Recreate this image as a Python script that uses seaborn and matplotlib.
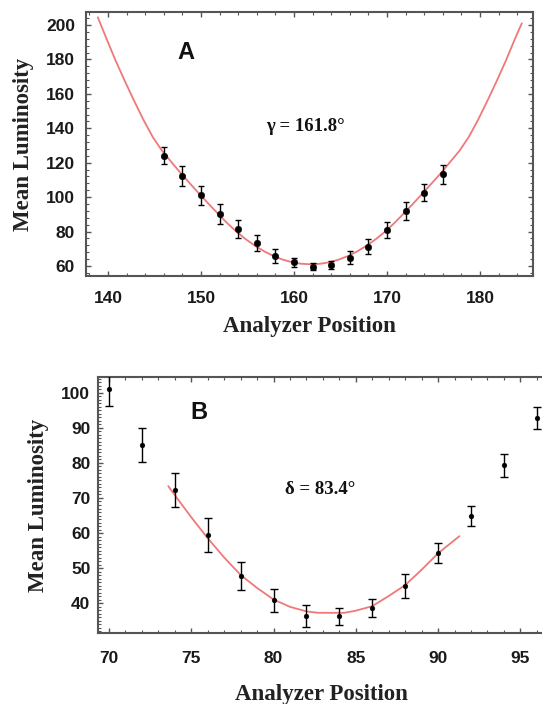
import numpy as np
import pandas as pd
import matplotlib
matplotlib.use("Agg")
import matplotlib.pyplot as plt
import seaborn as sns
from matplotlib.ticker import MultipleLocator

# ---------------- Panel A data ----------------
a_x = [146, 148, 150, 152, 154, 156, 158, 160, 162, 164, 166, 168, 170, 172, 174, 176]
a_y = [124, 112.3, 101, 90.4, 81.6, 73.4, 65.7, 62.1, 59.6, 60.6, 64.9, 71.3, 80.8, 92, 102.7, 113.2]
a_err = [4.9, 5.7, 5.6, 5.8, 5.4, 4.6, 3.9, 2.7, 1.9, 2.3, 3.6, 4.2, 4.6, 5.0, 5.1, 5.3]
a_fit_x = [138.9, 139.8, 140.8, 141.8, 142.8, 143.8, 144.8, 145.8, 146.8, 147.8, 148.8, 149.8,
           150.8, 151.8, 152.8, 153.8, 154.8, 155.8, 156.8, 157.8, 158.8, 159.8, 160.8, 161.8,
           162.8, 163.8, 164.8, 165.8, 166.8, 167.8, 168.8, 169.8, 170.8, 171.8, 172.8, 173.8,
           174.8, 175.8, 176.8, 177.8, 178.8, 179.8, 180.8, 181.8, 182.8, 183.8, 184.5]
a_fit_y = [204.5, 192.5, 179.5, 167.5, 156, 145, 135, 127, 120.5, 114, 108, 102,
           96.2, 90.5, 85, 80, 75.6, 71.8, 68.5, 65.8, 63.7, 62.2, 61.3, 61,
           61.3, 62.2, 63.7, 65.8, 68.5, 71.8, 75.6, 80, 85, 90.5, 96.2, 102,
           108, 114, 120.5, 127, 135, 145, 156, 167.5, 179.5, 192.5, 201]
a_xticks = [140, 150, 160, 170, 180]
a_yticks = [60, 80, 100, 120, 140, 160, 180, 200]

# ---------------- Panel B data ----------------
b_x = [70, 72, 74, 76, 78, 80, 82, 84, 86, 88, 90, 92, 94, 96]
b_y = [101.1, 85.2, 72.3, 59.4, 47.7, 40.8, 36.3, 36.2, 38.5, 44.9, 54.2, 64.9, 79.4, 92.9]
b_err = [4.7, 4.9, 4.8, 4.75, 4.05, 3.25, 3.2, 2.5, 2.6, 3.35, 2.9, 2.85, 3.3, 3.15]
b_fit_x = [73.6, 74, 75, 76, 77, 78, 79, 80, 81, 82, 82.7, 84.3, 85, 86, 87, 88, 89, 90, 91.3]
b_fit_y = [73.4, 70.8, 64.5, 58.5, 53, 48, 44.3, 41, 38.9, 37.6, 37.2, 37.2, 37.8, 39.1, 42, 45.1, 49.5, 54.2, 59.1]
b_xticks = [70, 75, 80, 85, 90, 95]
b_yticks = [40, 50, 60, 70, 80, 90, 100]

sns.set_theme(style="ticks")
plt.rcParams['font.family'] = ['Liberation Sans', 'DejaVu Sans']

W, H = 542, 704
fig = plt.figure(figsize=(W / 100, H / 100), dpi=100)
fig.patch.set_facecolor("white")

def px_axes(l, t, r, b):
    return fig.add_axes([l / W, 1 - b / H, (r - l) / W, (b - t) / H])

axA = px_axes(86, 12, 533, 276)
axB = px_axes(98, 377, 544, 633)

fit_color = "#f07878"
spine_color = "#555555"
serif = ['Liberation Serif', 'DejaVu Serif']

dfA = pd.DataFrame({"x": a_x, "y": a_y, "err": a_err})
dfAf = pd.DataFrame({"x": a_fit_x, "y": a_fit_y})
dfB = pd.DataFrame({"x": b_x, "y": b_y, "err": b_err})
dfBf = pd.DataFrame({"x": b_fit_x, "y": b_fit_y})

# Panel A
sns.lineplot(data=dfAf, x="x", y="y", ax=axA, color=fit_color, lw=1.3, sort=False, estimator=None)
axA.errorbar(dfA["x"], dfA["y"], yerr=dfA["err"], fmt="none", ecolor="black",
             elinewidth=1.0, capsize=2.5, capthick=1.0, zorder=3)
sns.scatterplot(data=dfA, x="x", y="y", ax=axA, color="black", s=22, edgecolor="black", zorder=4)

# Panel B
sns.lineplot(data=dfBf, x="x", y="y", ax=axB, color=fit_color, lw=1.3, sort=False, estimator=None)
axB.errorbar(dfB["x"], dfB["y"], yerr=dfB["err"], fmt="none", ecolor="black",
             elinewidth=1.0, capsize=3, capthick=1.0, zorder=3)
sns.scatterplot(data=dfB, x="x", y="y", ax=axB, color="black", s=12, edgecolor="black", zorder=4)

axA.set_xlim(137.63, 185.7)
axA.set_ylim(54.2, 207.55)
axB.set_xlim(69.33, 96.44)
axB.set_ylim(31.43, 104.57)

axA.set_xticks(a_xticks)
axA.set_yticks(a_yticks)
axB.set_xticks(b_xticks)
axB.set_yticks(b_yticks)
axA.xaxis.set_minor_locator(MultipleLocator(2))
axA.yaxis.set_minor_locator(MultipleLocator(4))
axB.xaxis.set_minor_locator(MultipleLocator(1))
axB.yaxis.set_minor_locator(MultipleLocator(1))

for ax, ypad, xpad, right in [(axA, 8.0, 10.8, True), (axB, 5.5, 12.7, False)]:
    for s in ax.spines.values():
        s.set_color(spine_color)
        s.set_linewidth(1.5)
    ax.tick_params(which="both", direction="in", top=True, right=right, color=spine_color)
    ax.tick_params(which="major", length=3.5, width=1.0)
    ax.tick_params(which="minor", length=2.0, width=0.8)
    ax.tick_params(axis="y", which="major", pad=ypad)
    ax.tick_params(axis="x", which="major", pad=xpad)
    for lab in ax.get_xticklabels() + ax.get_yticklabels():
        lab.set_fontsize(12.5)
        lab.set_fontweight("bold")
        lab.set_color("#1a1a1a")
    ax.set_facecolor("white")

axB.spines["right"].set_visible(False)

# Axis labels
for ax, xl_y, yl_x in [(axA, -0.193, -0.139), (axB, -0.242, -0.1345)]:
    ax.set_xlabel("Analyzer Position", fontsize=16.5, fontweight="bold", family=serif,
                  color="#222222", va="center")
    ax.set_ylabel("Mean Luminosity", fontsize=16.5, fontweight="bold", family=serif,
                  color="#222222", va="center")
    ax.xaxis.set_label_coords(0.5, xl_y)
    ax.yaxis.set_label_coords(yl_x, 0.5)

# Annotations
axA.text(0.224, 0.845, "A", transform=axA.transAxes, fontsize=17, fontweight="bold",
         ha="center", va="center", color="#111111")
axA.text(0.49, 0.568, "γ = 161.8°", transform=axA.transAxes, fontsize=13.5, fontweight="bold",
         family=serif, ha="center", va="center", color="#111111")
axB.text(0.226, 0.863, "B", transform=axB.transAxes, fontsize=17, fontweight="bold",
         ha="center", va="center", color="#111111")
axB.text(0.498, 0.559, "δ = 83.4°", transform=axB.transAxes, fontsize=13.5, fontweight="bold",
         family=serif, ha="center", va="center", color="#111111")

fig.savefig("out.png", dpi=100, facecolor="white")
